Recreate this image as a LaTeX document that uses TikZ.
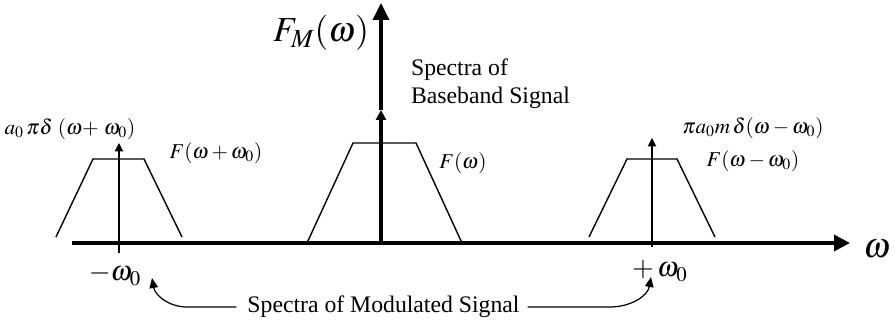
\documentclass[tikz,border=0pt]{standalone}
\usepackage{mathptmx}
\usepackage{fontspec}
\setmainfont{Liberation Serif}
\usepackage{tikz}
\usetikzlibrary{arrows.meta,calc,positioning}

\begin{document}
\begin{tikzpicture}[
  axis/.style={line width=2pt},
  band/.style={line width=0.8pt},
  impulse/.style={line width=0.6pt, -{Triangle[length=0.17cm,width=0.17cm]}},
  link/.style={line width=0.7pt, -{Triangle[length=0.2cm,width=0.17cm]}},
  lbl/.style={font=\fontsize{12}{14}\selectfont, inner sep=0.5pt},
  mid/.style={font=\fontsize{16}{19}\selectfont, inner sep=0.5pt},
  big/.style={font=\fontsize{20}{24}\selectfont, inner sep=1pt},
  txt/.style={font=\fontsize{13.5}{16}\selectfont, inner sep=1pt, align=left}]

\useasboundingbox (-7.62,-1.72) rectangle (10.28,4.86);

% frequency axis
\coordinate (o) at (0,0);
\coordinate (xl) at (-6.18,0);
\coordinate (xr) at (9.38,0);
\draw[axis, -{Triangle[length=0.32cm,width=0.32cm]}] (xl) -- (xr);
\node[big] (w) at (9.92,-0.12) {$\omega$};

% spectrum axis, with the baseband impulse on it
\coordinate (d0) at (0,2.66);
\coordinate (yt) at (0,4.8);
\draw[axis, -{Triangle[length=0.2cm,width=0.2cm]}] (o) -- (d0);
\draw[axis, -{Triangle[length=0.34cm,width=0.32cm]}] (d0) -- (yt);
\node[big] (fm) at (-1.2,4.2) {$F_M(\omega)$};
\node[txt, anchor=west] (base) at (0.56,3.19) {Spectra of\\Baseband Signal};

% baseband spectrum
\draw[band] (-1.48,0) -- (-0.56,2.0) -- (0.7,2.0) -- (1.62,0);
\node[lbl] (f0) at (1.64,1.6) {$F(\omega)$};

% lower sideband at -w0
\draw[band] (-6.5,0.12) -- (-5.76,1.68) -- (-4.74,1.68) -- (-3.98,0.12);
\coordinate (lb) at (-5.24,-0.2);
\coordinate (lt) at (-5.24,2.0);
\draw[impulse] (lb) -- (lt);
\node[lbl] (dl) at (-6.22,2.28) {$a_0\,\pi\delta\ (\omega{+}\ \omega_0)$};
\node[lbl] (fl) at (-3.3,1.8) {$F(\omega+\omega_0)$};
\node[mid] (wl) at (-5.32,-0.64) {$-\omega_0$};

% upper sideband at +w0
\draw[band] (4.16,0.12) -- (4.92,1.68) -- (5.92,1.68) -- (6.68,0.12);
\coordinate (rb) at (5.42,-0.08);
\coordinate (rt) at (5.42,2.1);
\draw[impulse] (rb) -- (rt);
\node[lbl] (dr) at (7.44,2.3) {$\pi a_0 m\,\delta(\omega-\omega_0)$};
\node[lbl] (fr) at (7.44,1.64) {$F(\omega-\omega_0)$};
\node[mid] (wr) at (5.58,-0.56) {$+\,\omega_0$};

% modulated signal note
\node[txt] (mod) at (0.05,-1.28) {Spectra of Modulated Signal};
\coordinate (ml) at (-3.88,-1.28);
\coordinate (tl) at (-4.58,-0.7);
\coordinate (mr) at (4.58,-1.28);
\coordinate (tr) at (5.4,-0.68);
\draw[link] ([xshift=-0.18cm]mod.west) -- (ml) to[out=180,in=-80] (tl);
\draw[link] ([xshift=0.12cm]mod.east) -- (mr) to[out=0,in=-100] (tr);

\end{tikzpicture}
\end{document}
